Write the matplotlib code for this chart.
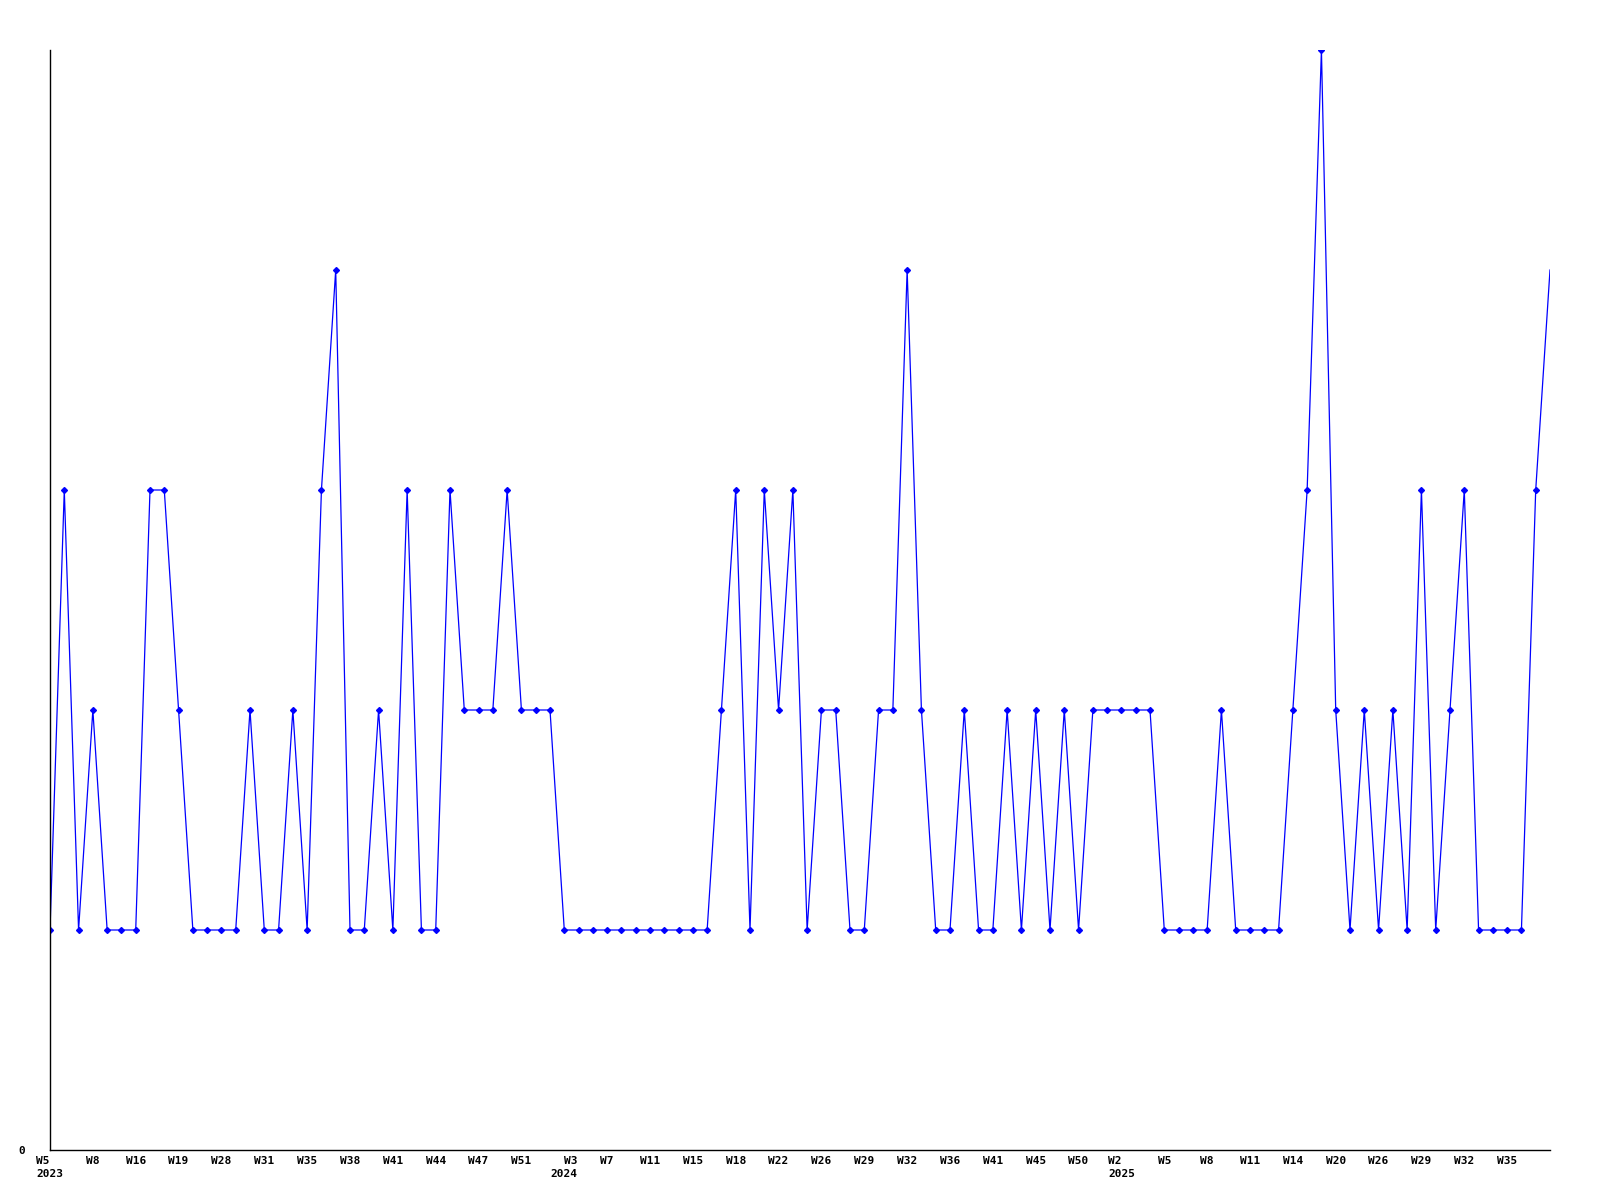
import matplotlib
matplotlib.use("Agg")
import matplotlib.pyplot as plt

# weekly counts (one point per week that has data)
values = [1, 3, 1, 2, 1, 1, 1, 3, 3, 2,
          1, 1, 1, 1, 2, 1, 1, 2, 1, 3,
          4, 1, 1, 2, 1, 3, 1, 1, 3, 2,
          2, 2, 3, 2, 2, 2, 1, 1, 1, 1,
          1, 1, 1, 1, 1, 1, 1, 2, 3, 1,
          3, 2, 3, 1, 2, 2, 1, 1, 2, 2,
          4, 2, 1, 1, 2, 1, 1, 2, 1, 2,
          1, 2, 1, 2, 2, 2, 2, 2, 1, 1,
          1, 1, 2, 1, 1, 1, 1, 2, 3, 5,
          2, 1, 2, 1, 2, 1, 3, 1, 2, 3,
          1, 1, 1, 1, 3, 4]

# every third point gets a label
tick_labels = ["W5\n2023", "W8", "W16", "W19", "W28", "W31", "W35", "W38",
               "W41", "W44", "W47", "W51", "W3\n2024", "W7", "W11", "W15",
               "W18", "W22", "W26", "W29", "W32", "W36", "W41", "W45", "W50",
               "W2\n2025", "W5", "W8", "W11", "W14", "W20", "W26", "W29",
               "W32", "W35"]

x = list(range(len(values)))

fig = plt.figure(figsize=(16, 12), dpi=100)
ax = fig.add_axes([50/1600, 50/1200, 1500/1600, 1100/1200])

ax.plot(x, values, color="#0000ff", linewidth=0.9,
        marker="D", markersize=3, markevery=list(range(len(values) - 1)))

ax.set_xlim(0, len(values) - 1)
ax.set_ylim(0, 5)

ax.spines["top"].set_visible(False)
ax.spines["right"].set_visible(False)
ax.spines["left"].set_linewidth(1)
ax.spines["bottom"].set_linewidth(1)

ax.set_yticks([0])
ax.set_yticklabels(["0"], family="DejaVu Sans Mono", weight="bold", fontsize=8)
ax.tick_params(axis="y", length=0, pad=18)

ax.set_xticks(x[:3 * len(tick_labels):3])
ax.set_xticklabels(tick_labels, family="DejaVu Sans Mono", weight="bold",
                   fontsize=8, linespacing=1.4)
for lab in ax.get_xticklabels():
    # the 2024 year sits right-aligned under its week in the original
    if lab.get_text().endswith("2024"):
        lab.set_multialignment("right")
    else:
        lab.set_multialignment("left")
ax.tick_params(axis="x", length=0, pad=4)

fig.savefig("out.png", dpi=100)
